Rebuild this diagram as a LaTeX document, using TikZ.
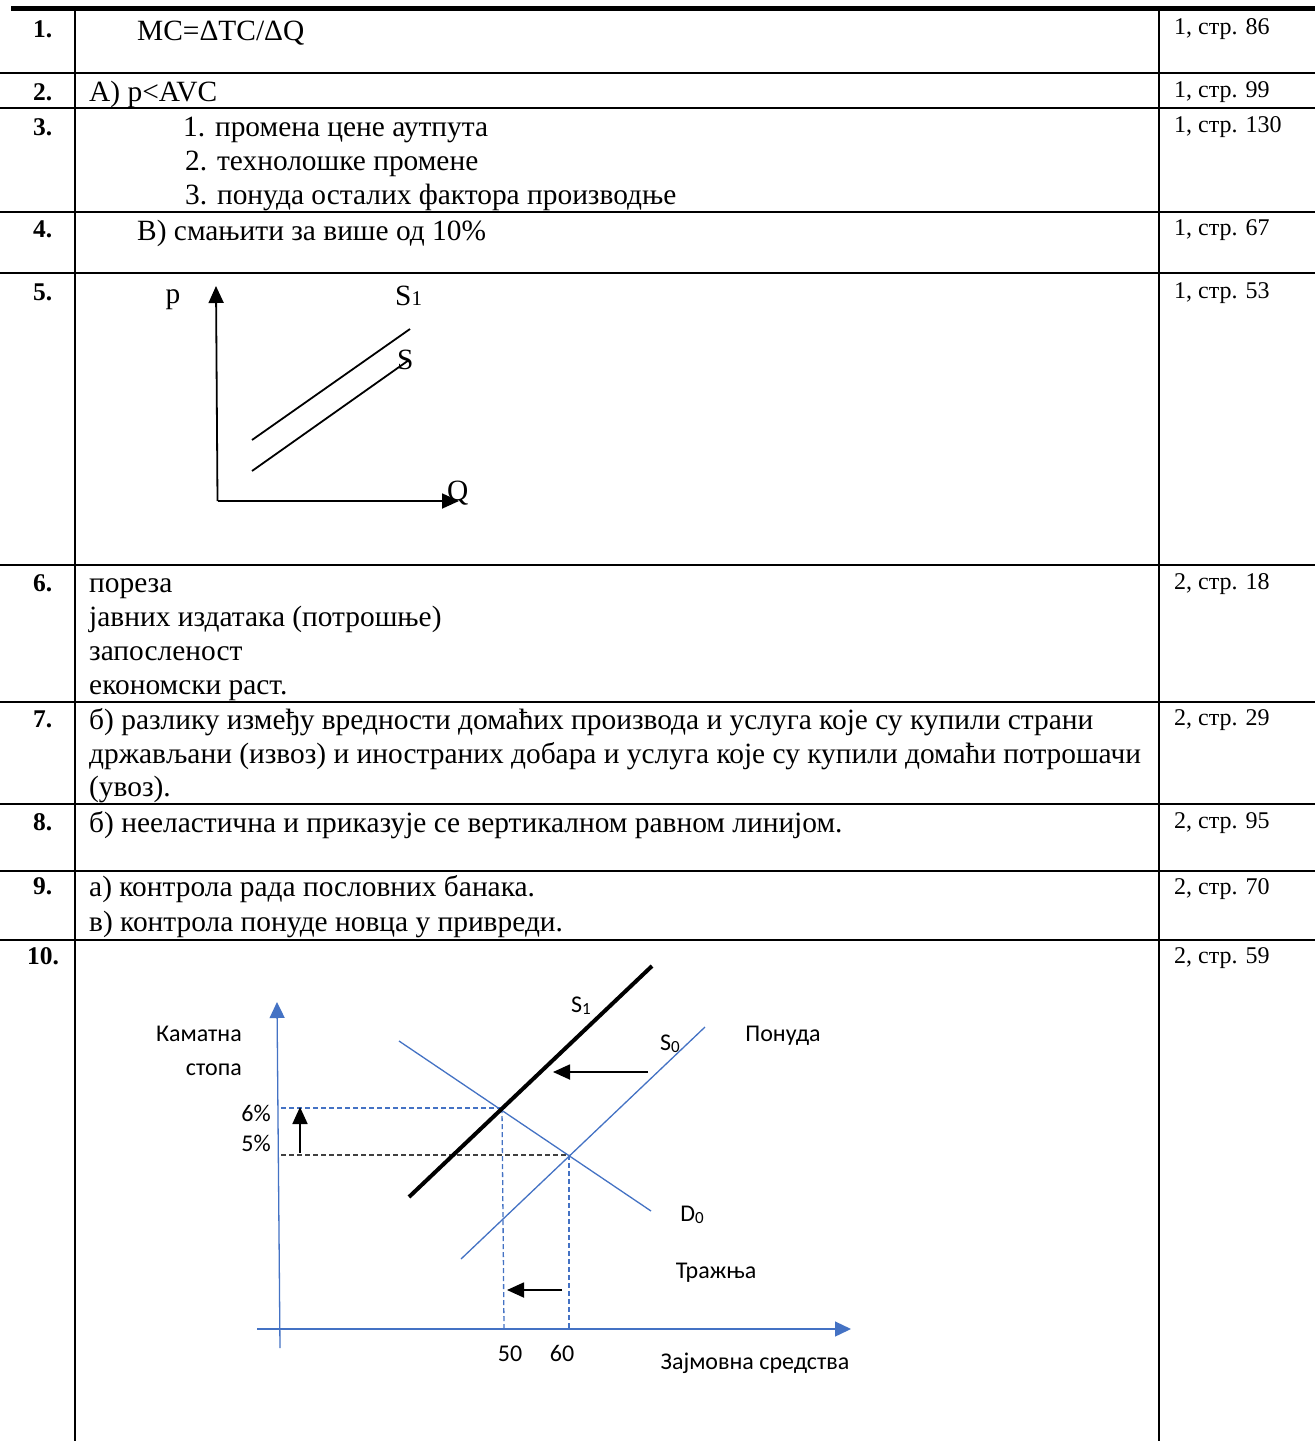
\documentclass[tikz,border=0pt]{standalone}
\usepackage{fontspec}
\setmainfont{Liberation Serif}
\newfontfamily\calib{Carlito}
\usetikzlibrary{arrows.meta}
\definecolor{myblue}{HTML}{4472C4}
\definecolor{dkgray}{HTML}{404040}
\begin{document}
\begin{tikzpicture}[x=1pt,y=-1pt,
  rule/.style={line width=2pt},
  num/.style={anchor=base west,inner sep=0pt,font=\fontsize{25.5}{30}\selectfont\bfseries},
  txt/.style={anchor=base west,inner sep=0pt,font=\fontsize{29.4}{34}\selectfont},
  refx/.style={anchor=base west,inner sep=0pt,font=\fontsize{24}{28}\selectfont},
  gl/.style={anchor=base,inner sep=0pt,font=\calib\fontsize{24}{28}\selectfont},
  glr/.style={anchor=base east,inner sep=0pt,font=\calib\fontsize{24}{28}\selectfont},
  blk/.style={line width=1.8pt,black},
  tri/.style={-{Triangle[length=17pt,width=15pt]}},
  bl/.style={draw=myblue,line width=1.3pt},
  bldash/.style={draw=myblue,line width=1.3pt,dash pattern=on 5pt off 3pt},
  dkdash/.style={draw=dkgray,line width=1.5pt,dash pattern=on 5pt off 3pt}
]
\useasboundingbox (0,0) rectangle (1315,1441);
\fill[white] (0,0) rectangle (1315,1441);
% table rules
\draw[line width=5pt] (11,8.5) -- (1315,8.5);
\foreach \yy in {73,108,212,273,565,702,804,871,940}
  \draw[rule] (0,\yy) -- (1315,\yy);
\draw[rule] (75,8) -- (75,1441);
\draw[rule] (1159,8) -- (1159,1441);
% numbers
\node[num] (n1) at (33,37) {1.};
\node[num] (n2) at (33,100) {2.};
\node[num] (n3) at (33,135) {3.};
\node[num] (n4) at (33,237) {4.};
\node[num] (n5) at (33,300) {5.};
\node[num] (n6) at (33,591) {6.};
\node[num] (n7) at (33,727) {7.};
\node[num] (n8) at (33,830) {8.};
\node[num] (n9) at (33,894) {9.};
\node[num] (n10) at (27,964) {10.};
% answers
\node[txt] (t1) at (137,40) {MC=ΔTC/ΔQ};
\node[txt] (t2) at (89,101) {A) p<AVC};
\node[txt] (t3a) at (183,136) {1. промена цене аутпута};
\node[txt] (t3b) at (185,170) {2. технолошке промене};
\node[txt] (t3c) at (185,204) {3. понуда осталих фактора производње};
\node[txt] (t4) at (137,240) {В) смањити за више од 10\%};
\node[txt] (t6a) at (89,592) {пореза};
\node[txt] (t6b) at (89,626) {јавних издатака (потрошње)};
\node[txt] (t6c) at (89,660) {запосленост};
\node[txt] (t6d) at (89,694) {економски раст.};
\node[txt] (t7a) at (89,729) {б) разлику између вредности домаћих производа и услуга које су купили страни};
\node[txt] (t7b) at (89,763) {држављани (извоз) и иностраних добара и услуга које су купили домаћи потрошачи};
\node[txt] (t7c) at (89,796) {(увоз).};
\node[txt] (t8) at (89,832) {б) нееластична и приказује се вертикалном равном линијом.};
\node[txt] (t9a) at (89,896) {а) контрола рада пословних банака.};
\node[txt] (t9b) at (89,931) {в) контрола понуде новца у привреди.};
% references
\node[refx] (r1) at (1174,34) {1, стр. 86};
\node[refx] (r2) at (1174,97) {1, стр. 99};
\node[refx] (r3) at (1174,132) {1, стр. 130};
\node[refx] (r4) at (1174,235) {1, стр. 67};
\node[refx] (r5) at (1174,298) {1, стр. 53};
\node[refx] (r6) at (1174,589) {2, стр. 18};
\node[refx] (r7) at (1174,725) {2, стр. 29};
\node[refx] (r8) at (1174,828) {2, стр. 95};
\node[refx] (r9) at (1174,894) {2, стр. 70};
\node[refx] (r10) at (1174,963) {2, стр. 59};
% ---- graph 5
\coordinate (o5) at (217.5,501);
\coordinate (ytop5) at (216,286);
\coordinate (xend5) at (459,501);
\draw[blk,tri] (o5) -- (ytop5);
\draw[blk,tri] (o5) -- (xend5);
\coordinate (s1a) at (252,440);
\coordinate (s1b) at (410,329);
\coordinate (sa) at (252,471);
\coordinate (sb) at (409,360);
\draw[blk] (s1a) -- (s1b);
\draw[blk] (sa) -- (sb);
\node[txt,anchor=base] (lp) at (173,303) {p};
\node[txt,anchor=base west] (ls1) at (395,305) {S{\fontsize{21}{24}\selectfont 1}};
\node[txt,anchor=base west] (ls) at (397,369) {S};
\node[txt,anchor=base west] (lq) at (447,500) {Q};
% ---- graph 10
\coordinate (o10) at (280,1329);
\draw[myblue,line width=1.3pt,-{Triangle[length=16pt,width=15pt]}] (280,1348) -- (277,1002);
\draw[myblue,line width=1.3pt,-{Triangle[length=16pt,width=15pt]}] (257,1329) -- (851,1329);
\coordinate (e1) at (502,1108);
\coordinate (e0) at (569,1155);
% dashed guides
\draw[bldash] (281,1108) -- (e1);
\draw[dkdash] (281,1155) -- (e0);
\draw[bldash] (e1) -- (504,1328);
\draw[bldash] (e0) -- (569,1328);
% curves
\draw[bl] (399,1041) -- (651,1211);
\draw[bl] (461,1259) -- (705,1027);
\draw[line width=4pt,black] (409,1197) -- (652,966);
% shift arrows
\draw[blk,tri] (648,1072) -- (553,1072);
\draw[blk,tri] (562,1290) -- (507,1290);
\draw[blk,tri] (300,1153) -- (300,1107);
% labels
\node[glr] (lk) at (242,1041) {Каматна};
\node[glr] (ls2) at (242,1075) {стопа};
\node[glr] (l6) at (271,1121) {6\%};
\node[glr] (l5) at (271,1151) {5\%};
\node[gl] (l50) at (510,1361) {50};
\node[gl] (l60) at (562,1361) {60};
\node[gl] (lz) at (755,1369) {Зајмовна средства};
\node[gl] (lpo) at (783,1041) {Понуда};
\node[gl] (ltr) at (716,1278) {Тражња};
\node[gl] (ld0) at (692,1221) {D{\fontsize{17}{18}\selectfont\raisebox{-2pt}{0}}};
\node[gl] (lss1) at (581,1012) {S{\fontsize{17}{18}\selectfont\raisebox{-2pt}{1}}};
\node[gl] (lss0) at (670,1050) {S{\fontsize{17}{18}\selectfont\raisebox{-2pt}{0}}};
\end{tikzpicture}
\end{document}
